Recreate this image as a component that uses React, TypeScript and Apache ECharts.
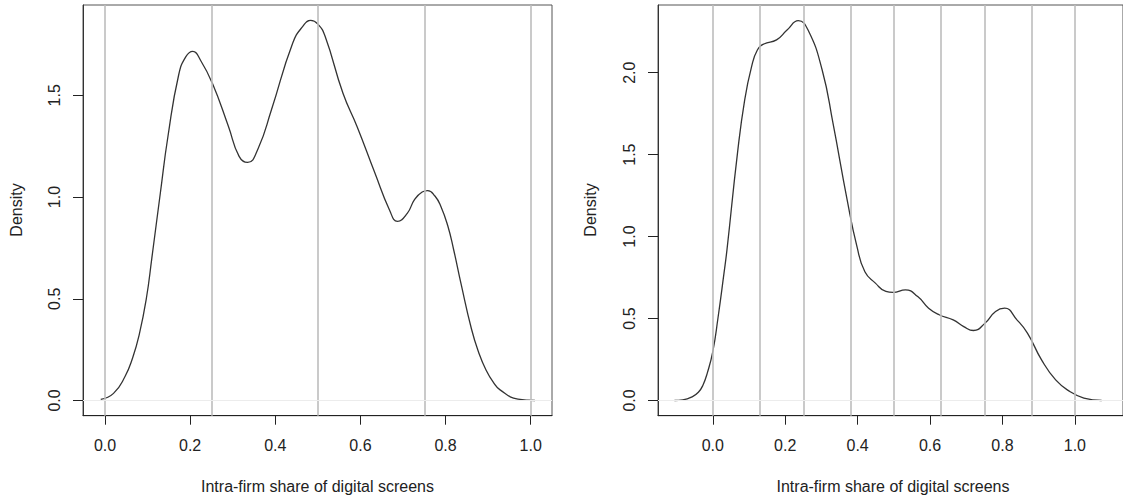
import React, { useEffect, useRef } from "react";
import * as echarts from "echarts";

// ---- data ----
const xTitle = "Intra-firm share of digital screens";
const yTitle = "Density";
const xTickValues = [0, 0.2, 0.4, 0.6, 0.8, 1.0];
const leftYTicks = [0, 0.5, 1.0, 1.5];
const rightYTicks = [0, 0.5, 1.0, 1.5, 2.0];
const leftGridLines = [0, 0.25, 0.5, 0.75, 1.0];
const rightGridLines = [0, 0.125, 0.25, 0.375, 0.5, 0.625, 0.75, 0.875, 1.0];

const leftX = [-0.01, 0.02, 0.047, 0.065, 0.08, 0.097, 0.11, 0.13, 0.148, 0.173, 0.19, 0.206, 0.225, 0.252, 0.29, 0.315, 0.335, 0.36, 0.391, 0.441, 0.465, 0.483, 0.5, 0.517, 0.559, 0.592, 0.634, 0.668, 0.687, 0.71, 0.727, 0.745, 0.758, 0.775, 0.789, 0.805, 0.819, 0.836, 0.861, 0.878, 0.895, 0.912, 0.928, 0.97, 1.01];
const leftY = [0.005, 0.035, 0.118, 0.21, 0.32, 0.5, 0.7, 1.02, 1.3, 1.6, 1.69, 1.716, 1.67, 1.56, 1.347, 1.2, 1.17, 1.24, 1.429, 1.757, 1.84, 1.868, 1.85, 1.79, 1.51, 1.347, 1.118, 0.938, 0.88, 0.92, 0.987, 1.025, 1.032, 1.005, 0.954, 0.86, 0.741, 0.577, 0.35, 0.235, 0.15, 0.09, 0.052, 0.007, 0.0];

const rightX = [-0.106, -0.083, -0.056, -0.04, -0.028, -0.015, 0, 0.014, 0.031, 0.039, 0.068, 0.088, 0.107, 0.123, 0.141, 0.176, 0.205, 0.236, 0.263, 0.302, 0.332, 0.371, 0.398, 0.42, 0.449, 0.478, 0.498, 0.532, 0.566, 0.596, 0.625, 0.664, 0.693, 0.72, 0.752, 0.781, 0.806, 0.84, 0.869, 0.908, 0.947, 0.986, 1.025, 1.074];
const rightY = [0.0, 0.004, 0.024, 0.05, 0.09, 0.17, 0.3, 0.5, 0.78, 0.919, 1.508, 1.834, 2.037, 2.138, 2.175, 2.2, 2.26, 2.317, 2.26, 2.016, 1.69, 1.224, 0.94, 0.785, 0.716, 0.665, 0.659, 0.675, 0.634, 0.563, 0.523, 0.492, 0.451, 0.427, 0.472, 0.543, 0.563, 0.492, 0.411, 0.248, 0.126, 0.055, 0.015, 0.0];

const FONT = "Liberation Sans, Arial, Helvetica, sans-serif";

function pairs(xs: number[], ys: number[]) {
  return xs.map((x, i) => [x, ys[i]]);
}

function xAxisFor(gridIndex: number, min: number, max: number) {
  return {
    type: "value",
    gridIndex,
    min,
    max,
    axisLine: { show: true, onZero: false, lineStyle: { color: "#222", width: 1 } },
    axisTick: { show: true, customValues: xTickValues, length: 9, lineStyle: { color: "#222" } },
    axisLabel: {
      customValues: xTickValues,
      formatter: (v: number) => v.toFixed(1),
      fontSize: 16,
      color: "#222",
      margin: 22,
      fontFamily: FONT,
    },
    splitLine: { show: false },
  };
}

function yAxisFor(gridIndex: number, min: number, max: number, ticks: number[]) {
  return {
    type: "value",
    gridIndex,
    min,
    max,
    axisLine: { show: true, onZero: false, lineStyle: { color: "#333", width: 1 } },
    axisTick: { show: true, customValues: ticks, length: 10, lineStyle: { color: "#222" } },
    axisLabel: {
      customValues: ticks,
      formatter: (v: number) => v.toFixed(1),
      fontSize: 16,
      color: "#222",
      rotate: 90,
      margin: 21,
      fontFamily: FONT,
    },
    splitLine: { show: false },
  };
}

function seriesFor(idx: number, xs: number[], ys: number[], gl: number[]) {
  return {
    type: "line",
    xAxisIndex: idx,
    yAxisIndex: idx,
    data: pairs(xs, ys),
    showSymbol: false,
    smooth: 0.5,
    lineStyle: { color: "#333", width: 1.3 },
    silent: true,
    markLine: {
      silent: true,
      symbol: "none",
      label: { show: false },
      data: [
        ...gl.map((v) => ({ xAxis: v, lineStyle: { color: "#bdbdbd", width: 1.6, type: "solid" } })),
        { yAxis: 0, lineStyle: { color: "#ececec", width: 1, type: "solid" } },
      ],
    },
  };
}

function textEl(text: string, x: number, y: number, rotation: number) {
  return {
    type: "text",
    x,
    y,
    rotation,
    style: {
      text,
      fill: "#222",
      fontSize: 16,
      fontFamily: FONT,
      textAlign: "center",
      textVerticalAlign: "middle",
      align: "center",
      verticalAlign: "middle",
    },
  };
}

export default function App() {
  const ref = useRef<HTMLDivElement>(null);
  useEffect(() => {
    if (!ref.current) return;
    const chart = echarts.init(ref.current, undefined, { renderer: "svg" });
    chart.setOption({
      animation: false,
      backgroundColor: "#fff",
      grid: [
        { left: 83, top: 5, width: 469, height: 410.7, show: true, borderColor: "#555", borderWidth: 1, backgroundColor: "transparent" },
        { left: 658, top: 5, width: 470, height: 410.7, show: true, borderColor: "#555", borderWidth: 1, backgroundColor: "transparent" },
      ],
      xAxis: [xAxisFor(0, -0.0517, 1.05), xAxisFor(1, -0.1515, 1.133)],
      yAxis: [yAxisFor(0, -0.0748, 1.944, leftYTicks), yAxisFor(1, -0.0928, 2.4128, rightYTicks)],
      series: [seriesFor(0, leftX, leftY, leftGridLines), seriesFor(1, rightX, rightY, rightGridLines)],
      graphic: [
        textEl(yTitle, 16, 210, Math.PI / 2),
        textEl(yTitle, 590, 210, Math.PI / 2),
        textEl(xTitle, 317.5, 486, 0),
        textEl(xTitle, 893, 486, 0),
      ],
    });
    return () => chart.dispose();
  }, []);
  return (
    <div
      ref={ref}
      style={{ position: "absolute", left: 0, top: 0, width: 1123, height: 500 }}
    />
  );
}
